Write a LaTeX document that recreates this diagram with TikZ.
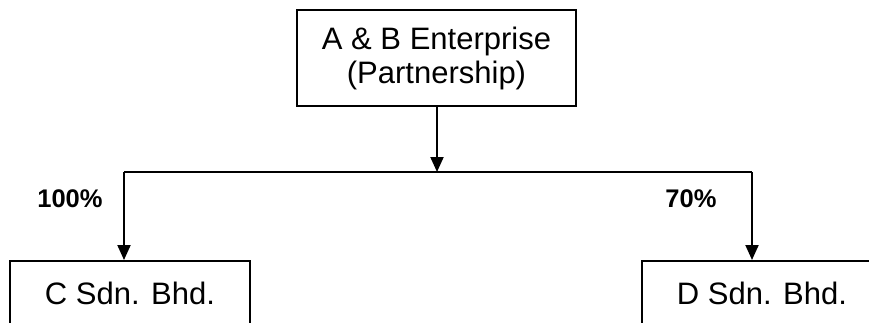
\documentclass[tikz,border=0pt]{standalone}
\usepackage{fontspec}
\setmainfont{Liberation Sans}
\usetikzlibrary{arrows.meta}
\begin{document}
\begin{tikzpicture}[x=1pt,y=-1pt,line width=2pt,
  >={Triangle[length=15pt,width=13pt]},
  entity/.style={draw,rectangle,inner sep=0pt,font=\fontsize{31}{34}\selectfont},
  subsidiary/.style={entity,anchor=north,minimum width=240pt,minimum height=82pt,
    text height=24pt,text depth=20pt},
  share/.style={anchor=base,inner sep=0pt,font=\fontsize{25.5}{30}\selectfont\bfseries}]
\useasboundingbox (0,0) rectangle (869,322);
\clip (0,0) rectangle (869,322);
% parent partnership
\node[entity,minimum width=279pt,minimum height=96pt,align=center,
  text height=58pt,text depth=8pt] (top) at (436.5,58)
  {A \& B Enterprise\\(Partnership)};
% subsidiaries (lower edges run past the page)
\node[subsidiary] (cbox) at (130,260) {C Sdn. Bhd.};
\node[subsidiary] (dbox) at (762,260) {D Sdn. Bhd.};
% branching points
\coordinate (mid) at (437,172);
\coordinate (lft) at (cbox.north -| 124,0);
\coordinate (rgt) at (dbox.north -| 752,0);
\coordinate (lbend) at (124,172);
\coordinate (rbend) at (752,172);
% connectors
\draw[->] (top.south -| mid) -- (mid);
\draw (lbend) -- (rbend);
\draw[->] (lbend) -- (lft);
\draw[->] (rbend) -- (rgt);
% ownership shares
\node[share] (pc) at (70,207) {100\%};
\node[share] (pd) at (691,207) {70\%};
\end{tikzpicture}
\end{document}
